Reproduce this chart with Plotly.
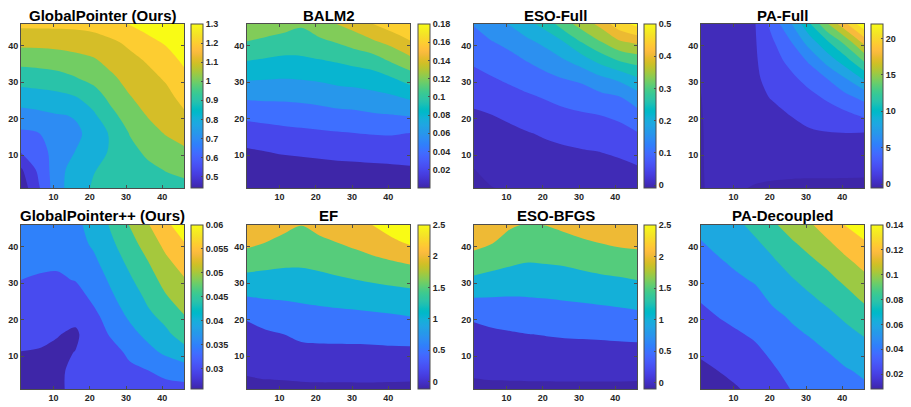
import plotly.graph_objects as go

W, H = 911, 407
FONT = "Liberation Sans, Arial, Helvetica, sans-serif"

# ---------------- data ----------------
GRID = [1, 6, 11, 16, 21, 26, 31, 36, 41, 46]
AXIS_TICKS = [10, 20, 30, 40]

TITLES = ["GlobalPointer (Ours)", "BALM2", "ESO-Full", "PA-Full",
          "GlobalPointer++ (Ours)", "EF", "ESO-BFGS", "PA-Decoupled"]

# rows = y (1 -> 46), columns = x (1 -> 46)
z_globalpointer = [
    [0.44, 0.593, 0.764, 0.857, 0.91, 0.93, 0.95, 0.96, 0.965, 0.97],
    [0.486, 0.626, 0.757, 0.85, 0.895, 0.925, 0.96, 0.98, 1.004, 1.026],
    [0.608, 0.662, 0.74, 0.801, 0.85, 0.915, 0.975, 1.017, 1.057, 1.084],
    [0.683, 0.699, 0.745, 0.788, 0.82, 0.92, 1.004, 1.063, 1.106, 1.136],
    [0.764, 0.777, 0.795, 0.805, 0.885, 0.975, 1.05, 1.106, 1.14, 1.186],
    [0.851, 0.862, 0.873, 0.897, 0.948, 1.032, 1.095, 1.138, 1.173, 1.229],
    [0.941, 0.949, 0.963, 0.992, 1.03, 1.082, 1.133, 1.17, 1.21, 1.275],
    [1.032, 1.038, 1.049, 1.067, 1.088, 1.132, 1.17, 1.21, 1.262, 1.315],
    [1.127, 1.128, 1.133, 1.142, 1.157, 1.182, 1.222, 1.275, 1.31, 1.35],
    [1.223, 1.223, 1.223, 1.225, 1.235, 1.27, 1.305, 1.335, 1.36, 1.39],
]
z_balm2 = [
    [0.001, 0.001, 0.001, 0.001, 0.0008, 0.0005, 0.0003, 0.0002, 0.0001, 0.0],
    [0.009, 0.01, 0.011, 0.0115, 0.0125, 0.014, 0.0145, 0.015, 0.016, 0.0175],
    [0.0175, 0.0198, 0.022, 0.0235, 0.025, 0.026, 0.027, 0.0285, 0.029, 0.0286],
    [0.0299, 0.032, 0.0345, 0.0355, 0.037, 0.0385, 0.0399, 0.041, 0.0415, 0.0396],
    [0.0447, 0.047, 0.048, 0.0501, 0.052, 0.054, 0.0555, 0.058, 0.0595, 0.0617],
    [0.063, 0.064, 0.064, 0.065, 0.067, 0.0705, 0.0715, 0.0745, 0.0775, 0.0834],
    [0.082, 0.081, 0.0801, 0.081, 0.083, 0.086, 0.088, 0.091, 0.098, 0.1086],
    [0.1004, 0.098, 0.0955, 0.0965, 0.099, 0.102, 0.1065, 0.111, 0.123, 0.134],
    [0.119, 0.115, 0.112, 0.1105, 0.1155, 0.121, 0.1285, 0.137, 0.1455, 0.158],
    [0.138, 0.133, 0.128, 0.1225, 0.132, 0.1405, 0.149, 0.1605, 0.171, 0.178],
]
z_eso_full = [
    [-0.009, -0.001, 0.004, 0.008, 0.012, 0.016, 0.02, 0.024, 0.028, 0.032],
    [-0.001, 0.0135, 0.016, 0.021, 0.026, 0.03, 0.034, 0.0375, 0.041, 0.045],
    [0.0135, 0.026, 0.03, 0.035, 0.039, 0.043, 0.047, 0.0505, 0.055, 0.065],
    [0.0285, 0.038, 0.041, 0.048, 0.0557, 0.0635, 0.0703, 0.0755, 0.081, 0.097],
    [0.0434, 0.0497, 0.058, 0.0705, 0.0795, 0.0875, 0.0945, 0.1005, 0.111, 0.132],
    [0.0626, 0.073, 0.083, 0.094, 0.1045, 0.1176, 0.127, 0.137, 0.148, 0.178],
    [0.085, 0.0967, 0.109, 0.123, 0.1365, 0.1505, 0.1595, 0.188, 0.21, 0.243],
    [0.1077, 0.122, 0.136, 0.153, 0.173, 0.197, 0.228, 0.268, 0.302, 0.32],
    [0.1305, 0.148, 0.163, 0.19, 0.2135, 0.2505, 0.303, 0.347, 0.39, 0.41],
    [0.153, 0.179, 0.204, 0.237, 0.272, 0.33, 0.374, 0.415, 0.48, 0.515],
]
z_pa_full = [
    [-0.1, 0.4, 0.2, -0.15, -0.35, -0.4, -0.45, -0.45, -0.5, -0.55],
    [-0.1, 0.5, 0.55, 0.55, 0.5, 0.4, 0.4, 0.4, 0.4, 0.4],
    [-0.1, 0.55, 0.7, 0.85, 0.9, 1.1, 1.2, 1.25, 1.3, 1.3],
    [-0.1, 0.6, 0.85, 1.1, 1.2, 1.5, 1.75, 1.9, 1.97, 1.9],
    [-0.08, 0.7, 1.0, 1.35, 1.55, 2.05, 2.6, 3.04, 3.53, 4.32],
    [-0.03, 0.8, 1.15, 1.55, 2.16, 2.8, 3.5, 4.34, 5.52, 6.6],
    [0.1, 0.9, 1.3, 1.7, 2.73, 3.6, 4.7, 6.06, 7.97, 10.27],
    [0.2, 1.0, 1.4, 1.8, 3.3, 4.6, 6.35, 8.86, 11.2, 14.26],
    [0.3, 1.1, 1.5, 1.88, 3.86, 6.0, 8.93, 11.76, 14.67, 18.57],
    [0.4, 1.2, 1.6, 1.97, 4.94, 7.95, 11.8, 15.9, 19.7, 23.5],
]
z_globalpointer_pp = [
    [0.0258, 0.0264, 0.0293, 0.031, 0.0312, 0.0318, 0.0325, 0.033, 0.0335, 0.0336],
    [0.028, 0.0283, 0.0296, 0.0305, 0.0316, 0.0323, 0.034, 0.0349, 0.0363, 0.0372],
    [0.0299, 0.0297, 0.0292, 0.0301, 0.0321, 0.0333, 0.0359, 0.0384, 0.0409, 0.0434],
    [0.0312, 0.031, 0.0302, 0.0293, 0.0325, 0.0356, 0.0384, 0.0413, 0.0441, 0.0469],
    [0.0325, 0.0322, 0.0318, 0.0311, 0.0338, 0.0373, 0.0408, 0.0441, 0.0463, 0.0498],
    [0.0338, 0.0334, 0.0331, 0.0329, 0.0359, 0.0393, 0.0425, 0.0458, 0.0495, 0.0522],
    [0.03502, 0.0346, 0.0344, 0.0352, 0.0374, 0.0409, 0.0443, 0.0479, 0.0517, 0.0546],
    [0.0362, 0.0358, 0.0357, 0.0373, 0.0391, 0.0425, 0.0462, 0.0499, 0.054, 0.0572],
    [0.0372, 0.0368, 0.0369, 0.0383, 0.0407, 0.0442, 0.0482, 0.0522, 0.0565, 0.0598],
    [0.0382, 0.0378, 0.0381, 0.0392, 0.0412, 0.0458, 0.0502, 0.0546, 0.059, 0.0625],
]
z_ef = [
    [-0.1, -0.09, -0.09, -0.08, -0.08, -0.08, -0.085, -0.09, -0.1, -0.118],
    [0.04, 0.08, 0.1, 0.12, 0.14, 0.14, 0.15, 0.16, 0.16, 0.17],
    [0.22, 0.26, 0.29, 0.36, 0.38, 0.38, 0.385, 0.39, 0.4, 0.4],
    [0.39, 0.43, 0.495, 0.6, 0.62, 0.625, 0.63, 0.645, 0.67, 0.69],
    [0.54, 0.69, 0.77, 0.83, 0.86, 0.88, 0.9, 0.93, 0.96, 1.005],
    [0.97, 1.02, 1.04, 1.07, 1.11, 1.15, 1.19, 1.23, 1.28, 1.32],
    [1.35, 1.34, 1.32, 1.33, 1.38, 1.44, 1.499, 1.56, 1.61, 1.66],
    [1.73, 1.65, 1.6, 1.59, 1.64, 1.72, 1.8, 1.9, 1.98, 2.07],
    [2.1, 1.99, 1.87, 1.8, 1.89, 1.99, 2.1, 2.22, 2.37, 2.55],
    [2.48, 2.31, 2.13, 2.01, 2.15, 2.26, 2.38, 2.51, 2.76, 3.0],
]
z_eso_bfgs = [
    [-0.1, -0.09, -0.09, -0.09, -0.09, -0.09, -0.09, -0.09, -0.09, -0.1],
    [0.07, 0.1, 0.11, 0.12, 0.12, 0.13, 0.13, 0.13, 0.13, 0.13],
    [0.23, 0.26, 0.29, 0.31, 0.32, 0.33, 0.34, 0.34, 0.35, 0.36],
    [0.38, 0.42, 0.455, 0.495, 0.52, 0.545, 0.555, 0.57, 0.59, 0.61],
    [0.56, 0.64, 0.7, 0.74, 0.76, 0.79, 0.81, 0.83, 0.86, 0.9],
    [0.995, 0.99, 0.98, 0.99, 1.01, 1.04, 1.07, 1.11, 1.15, 1.2],
    [1.42, 1.34, 1.26, 1.25, 1.26, 1.3, 1.36, 1.41, 1.45, 1.505],
    [1.77, 1.68, 1.59, 1.515, 1.54, 1.57, 1.64, 1.71, 1.76, 1.8],
    [2.15, 2.01, 1.83, 1.74, 1.78, 1.85, 1.93, 2.002, 2.07, 2.1],
    [2.48, 2.3, 2.05, 1.96, 2.01, 2.1, 2.2, 2.29, 2.35, 2.4],
]
z_pa_decoupled = [
    [0.008, 0.0138, 0.0188, 0.0255, 0.033, 0.0406, 0.046, 0.0505, 0.054, 0.057],
    [0.0155, 0.0203, 0.0253, 0.031, 0.038, 0.0455, 0.05, 0.0548, 0.0585, 0.0628],
    [0.0226, 0.0269, 0.0318, 0.0365, 0.0435, 0.0505, 0.0545, 0.0598, 0.0663, 0.0719],
    [0.029, 0.0335, 0.0383, 0.0425, 0.0495, 0.0565, 0.061, 0.0678, 0.0745, 0.0813],
    [0.0355, 0.0407, 0.0448, 0.0489, 0.0565, 0.0621, 0.069, 0.0758, 0.0835, 0.0923],
    [0.0418, 0.0472, 0.0515, 0.0552, 0.0635, 0.0702, 0.0775, 0.0848, 0.0935, 0.1035],
    [0.0475, 0.0526, 0.0575, 0.0617, 0.0705, 0.0785, 0.0865, 0.0948, 0.1043, 0.1149],
    [0.0532, 0.0585, 0.0635, 0.069, 0.078, 0.0875, 0.0965, 0.1048, 0.1163, 0.1264],
    [0.059, 0.0645, 0.07, 0.0772, 0.0865, 0.0975, 0.1065, 0.1172, 0.1285, 0.1379],
    [0.0645, 0.0705, 0.0765, 0.0855, 0.0975, 0.108, 0.1175, 0.1295, 0.141, 0.149],
]
Z_ALL = [z_globalpointer, z_balm2, z_eso_full, z_pa_full,
         z_globalpointer_pp, z_ef, z_eso_bfgs, z_pa_decoupled]

# contour levels (start, end, step)
LEVELS = [(0.5, 1.3, 0.1), (0.02, 0.18, 0.02), (0.0, 0.5, 0.05), (0.0, 22.0, 2.0),
          (0.03, 0.06, 0.005), (0.0, 2.5, 0.5), (0.0, 2.5, 0.5), (0.02, 0.14, 0.02)]
# colour limits (data minimum, top level)
CLIMS = [(0.44, 1.3), (0.0, 0.18), (-0.009, 0.5), (-0.55, 22.0),
         (0.0258, 0.06), (-0.118, 2.5), (-0.1, 2.5), (0.008, 0.14)]

CBAR_TICKS = [
    [0.5, 0.6, 0.7, 0.8, 0.9, 1.0, 1.1, 1.2, 1.3],
    [0.02, 0.04, 0.06, 0.08, 0.1, 0.12, 0.14, 0.16, 0.18],
    [0, 0.1, 0.2, 0.3, 0.4, 0.5],
    [0, 5, 10, 15, 20],
    [0.03, 0.035, 0.04, 0.045, 0.05, 0.055, 0.06],
    [0, 0.5, 1, 1.5, 2, 2.5],
    [0, 0.5, 1, 1.5, 2, 2.5],
    [0.02, 0.04, 0.06, 0.08, 0.1, 0.12, 0.14],
]
CBAR_LABELS = [
    ["0.5", "0.6", "0.7", "0.8", "0.9", "1", "1.1", "1.2", "1.3"],
    ["0.02", "0.04", "0.06", "0.08", "0.1", "0.12", "0.14", "0.16", "0.18"],
    ["0", "0.1", "0.2", "0.3", "0.4", "0.5"],
    ["0", "5", "10", "15", "20"],
    ["0.03", "0.035", "0.04", "0.045", "0.05", "0.055", "0.06"],
    ["0", "0.5", "1", "1.5", "2", "2.5"],
    ["0", "0.5", "1", "1.5", "2", "2.5"],
    ["0.02", "0.04", "0.06", "0.08", "0.1", "0.12", "0.14"],
]

# ---------------- style ----------------
PARULA = [
    [0.2422, 0.1504, 0.6603], [0.2504, 0.1650, 0.7076], [0.2578, 0.1818, 0.7511], [0.2647, 0.1978, 0.7952],
    [0.2706, 0.2147, 0.8364], [0.2751, 0.2342, 0.8710], [0.2783, 0.2559, 0.8991], [0.2803, 0.2782, 0.9221],
    [0.2813, 0.3006, 0.9414], [0.2810, 0.3228, 0.9579], [0.2795, 0.3447, 0.9717], [0.2760, 0.3667, 0.9829],
    [0.2699, 0.3892, 0.9906], [0.2602, 0.4123, 0.9952], [0.2440, 0.4358, 0.9988], [0.2206, 0.4603, 0.9973],
    [0.1963, 0.4847, 0.9892], [0.1834, 0.5074, 0.9798], [0.1786, 0.5289, 0.9682], [0.1764, 0.5499, 0.9520],
    [0.1687, 0.5703, 0.9359], [0.1540, 0.5902, 0.9218], [0.1460, 0.6091, 0.9079], [0.1380, 0.6276, 0.8973],
    [0.1248, 0.6459, 0.8883], [0.1113, 0.6635, 0.8763], [0.0952, 0.6798, 0.8598], [0.0689, 0.6948, 0.8394],
    [0.0297, 0.7082, 0.8163], [0.0036, 0.7203, 0.7917], [0.0067, 0.7312, 0.7660], [0.0433, 0.7411, 0.7394],
    [0.0964, 0.7500, 0.7120], [0.1408, 0.7584, 0.6842], [0.1717, 0.7670, 0.6554], [0.1938, 0.7758, 0.6251],
    [0.2161, 0.7843, 0.5923], [0.2470, 0.7918, 0.5567], [0.2906, 0.7973, 0.5188], [0.3406, 0.8008, 0.4789],
    [0.3909, 0.8029, 0.4354], [0.4456, 0.8024, 0.3909], [0.5044, 0.7993, 0.3480], [0.5616, 0.7942, 0.3045],
    [0.6174, 0.7876, 0.2612], [0.6720, 0.7793, 0.2227], [0.7242, 0.7698, 0.1910], [0.7738, 0.7598, 0.1646],
    [0.8203, 0.7498, 0.1535], [0.8634, 0.7406, 0.1596], [0.9035, 0.7330, 0.1774], [0.9393, 0.7288, 0.2100],
    [0.9728, 0.7298, 0.2394], [0.9956, 0.7434, 0.2371], [0.9970, 0.7659, 0.2199], [0.9952, 0.7893, 0.2028],
    [0.9892, 0.8136, 0.1885], [0.9786, 0.8386, 0.1766], [0.9676, 0.8639, 0.1643], [0.9610, 0.8890, 0.1537],
    [0.9597, 0.9135, 0.1423], [0.9628, 0.9373, 0.1265], [0.9691, 0.9606, 0.1064], [0.9769, 0.9839, 0.0805],
]


def rgb(c):
    return "rgb(%d,%d,%d)" % tuple(round(v * 255) for v in c)


def parula(t):
    t = min(max(t, 0.0), 1.0)
    p = t * (len(PARULA) - 1)
    i = min(int(p), len(PARULA) - 2)
    f = p - i
    a, b = PARULA[i], PARULA[i + 1]
    return rgb([a[k] + (b[k] - a[k]) * f for k in range(3)])


PARULA_SCALE = [[i / (len(PARULA) - 1), rgb(c)] for i, c in enumerate(PARULA)]


def band_scale(start, end, step, cmin, cmax):
    n = int(round((end - start) / step)) + 1
    levels = [start + k * step for k in range(n)]
    colors = [parula(0.0)] + [parula((lv - cmin) / (cmax - cmin)) for lv in levels]
    return [[k / n, colors[k]] for k in range(n + 1)]


PLOT_LEFT = [21, 247, 474, 701]
PLOT_W = 163
ROW_TOP = [24, 225]
PLOT_H = 164
CB_LEFT = [191, 418, 644, 871]
CB_W = 12
TITLE_Y = [15, 216]
AX_COLOR = "#4d4d4d"
TXT_COLOR = "#262626"

fig = go.Figure()
annotations = []
layout_axes = {}

for i in range(8):
    r, c = divmod(i, 4)
    n = i + 1
    xa, ya = ("x%d" % n, "y%d" % n)
    x0 = PLOT_LEFT[c]
    y0 = ROW_TOP[r]
    start, end, step = LEVELS[i]
    cmin, cmax = CLIMS[i]

    fig.add_trace(go.Contour(
        x=GRID, y=GRID, z=Z_ALL[i], xaxis=xa, yaxis=ya,
        autocontour=False,
        contours=dict(start=start, end=end, size=step, coloring="fill", showlines=False),
        line=dict(width=0, smoothing=0.9),
        colorscale=band_scale(start, end, step, cmin, cmax),
        showscale=False, hoverinfo="skip",
    ))
    fig.add_trace(go.Scatter(
        x=[None], y=[None], xaxis=xa, yaxis=ya, mode="markers", showlegend=False,
        hoverinfo="skip",
        marker=dict(
            color=[cmin], cmin=cmin, cmax=cmax, colorscale=PARULA_SCALE, showscale=True,
            colorbar=dict(
                x=CB_LEFT[c] / W, xanchor="left", xpad=0,
                y=1 - (y0 + PLOT_H / 2) / H, yanchor="middle", ypad=0,
                len=PLOT_H, lenmode="pixels", thickness=CB_W, thicknessmode="pixels",
                outlinewidth=1, outlinecolor=AX_COLOR,
                tickmode="array", tickvals=CBAR_TICKS[i], ticktext=CBAR_LABELS[i],
                ticks="inside", ticklen=2, tickcolor=AX_COLOR,
                tickfont=dict(family=FONT, size=9, color=TXT_COLOR, weight="bold"),
            ),
        ),
    ))

    axis_common = dict(
        range=[1, 46], tickmode="array", tickvals=AXIS_TICKS,
        ticks="inside", ticklen=3, tickcolor=AX_COLOR, tickwidth=1,
        showline=True, linecolor=AX_COLOR, linewidth=1, mirror="ticks",
        showgrid=False, zeroline=False,
        tickfont=dict(family=FONT, size=9, color=TXT_COLOR, weight="bold"),
    )
    layout_axes["xaxis%d" % n] = dict(axis_common, domain=[x0 / W, (x0 + PLOT_W) / W], anchor=ya)
    layout_axes["yaxis%d" % n] = dict(axis_common, domain=[1 - (y0 + PLOT_H) / H, 1 - y0 / H], anchor=xa)

    annotations.append(dict(
        text="<b>%s</b>" % TITLES[i], xref="paper", yref="paper",
        x=(x0 + PLOT_W / 2) / W, y=1 - TITLE_Y[r] / H, xanchor="center", yanchor="middle",
        showarrow=False, font=dict(family=FONT, size=15, color="#000000"),
    ))

fig.update_layout(
    width=W, height=H, autosize=False,
    margin=dict(l=0, r=0, t=0, b=0, pad=0),
    paper_bgcolor="white", plot_bgcolor="white",
    showlegend=False, annotations=annotations,
    **layout_axes,
)

fig.write_html("out.html")
